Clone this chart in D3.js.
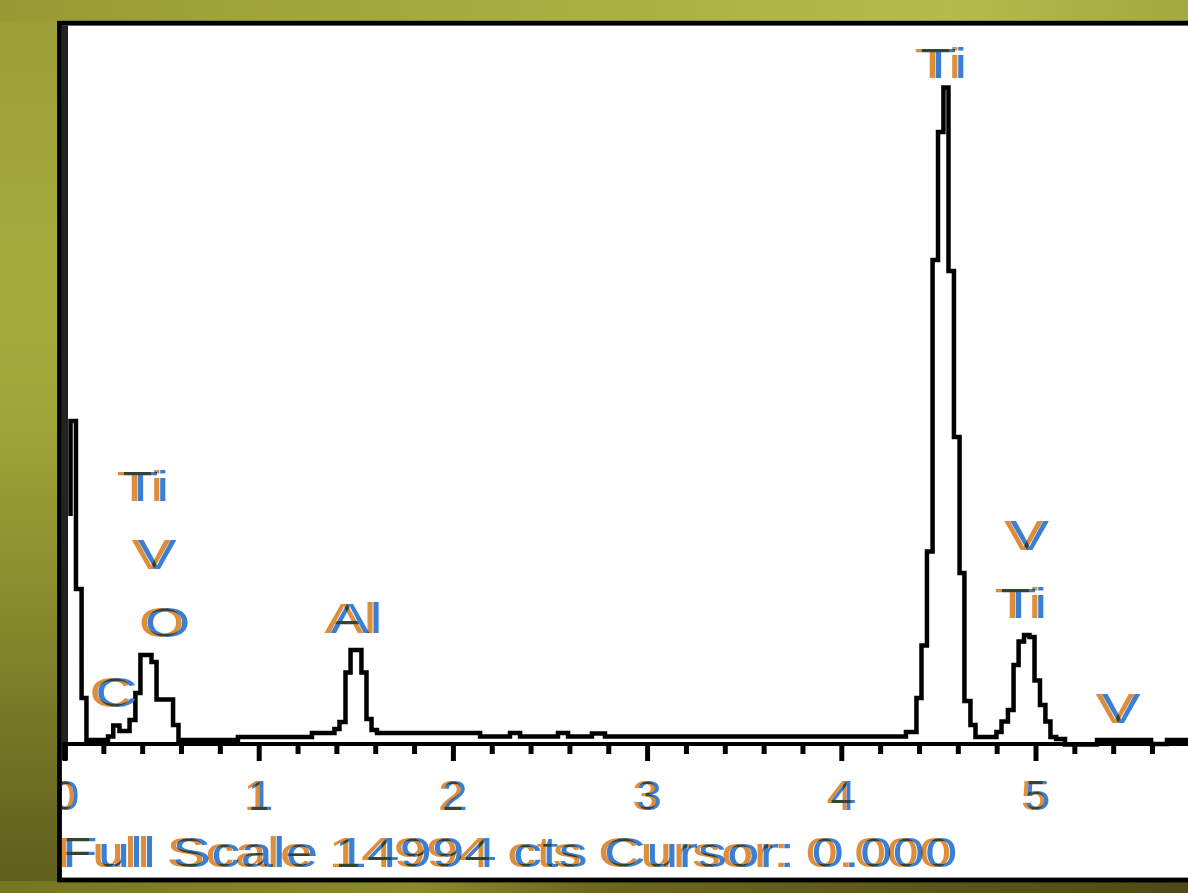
<!DOCTYPE html>
<html>
<head>
<meta charset="utf-8">
<script src="https://cdn.jsdelivr.net/npm/d3@7"></script>
<style>
html, body { margin: 0; padding: 0; overflow: hidden; background: #7d7f2a; }
svg { display: block; }
.lbl { font-family: "Liberation Sans", Arial, sans-serif; font-size: 42px; }
</style>
</head>
<body>
<svg id="chart" width="1188" height="893"></svg>
<script>
const edgeKeV = [0.031, 0.031, 0.059, 0.088, 0.113, 0.224, 0.251, 0.283, 0.335, 0.365,
    0.391, 0.448, 0.474, 0.559, 0.587, 0.893, 1.274, 1.390, 1.416, 1.447,
    1.473, 1.529, 1.555, 1.581, 1.609, 2.140, 2.294, 2.346, 2.541, 2.593,
    2.716, 2.783, 4.333, 4.387, 4.413, 4.441, 4.470, 4.498, 4.526, 4.552,
    4.580, 4.609, 4.634, 4.665, 4.691, 4.799, 4.825, 4.858, 4.887, 4.913,
    4.941, 4.969, 4.995, 5.023, 5.051, 5.077, 5.106, 5.152, 5.317, 5.595,
    5.677, 5.847];
const counts = [4769, 6747, 3249, 979, 104, 177, 406, 292, 521, 1083,
    1874, 1728, 948, 417, 104, 167, 250, 333, 479, 1510,
    1978, 1510, 541, 312, 250, 177, 250, 177, 250, 177,
    239, 177, 271, 979, 2072, 4030, 10100, 12766, 13692, 9871,
    6414, 3582, 916, 417, 167, 271, 489, 729, 1666, 2155,
    2291, 2249, 1343, 833, 489, 167, 125, 10, 104, 21,
    104, 104];

// peak labels: element, energy (keV), count level of the text baseline
const peakNames = ["Ti", "V", "O", "C", "Al", "Ti", "V", "Ti", "V"];
const peakKeV = [0.404, 0.461, 0.515, 0.252, 1.488, 4.513, 4.954, 4.925, 5.425];
const peakCounts = [5081, 3665, 2249, 791, 2332, 13890, 4061, 2645, 458];

const majorTicks = [0, 1, 2, 3, 4, 5];
const minorTicks = [0.2, 0.4, 0.6, 0.8, 1.2, 1.4, 1.6, 1.8, 2.2, 2.4, 2.6, 2.8,
    3.2, 3.4, 3.6, 3.8, 4.2, 4.4, 4.6, 4.8, 5.2, 5.4, 5.6, 5.8];
const fullScale = 14994;
const footerText = "Full Scale 14994 cts Cursor: 0.000";

const W = 1188, H = 893;
const svg = d3.select("#chart");
const defs = svg.append("defs");

function gradient(id, x2, y2, stops) {
    var g = defs.append("linearGradient").attr("id", id)
        .attr("x1", 0).attr("y1", 0).attr("x2", x2).attr("y2", y2);
    stops.forEach(s => g.append("stop").attr("offset", s[0]).attr("stop-color", s[1]));
}
gradient("bgLeft", 0, 1, [[0, "#9a9d36"], [0.3, "#a6ab3e"], [0.45, "#a2a73b"], [0.7, "#85882c"], [0.9, "#6a6a22"], [1, "#5d5c1d"]]);
gradient("bgTop", 1, 0, [[0, "#989a35"], [0.5, "#a9b042"], [0.8, "#b5bb4c"], [1, "#a3a840"]]);
gradient("bgBottom", 1, 0, [[0, "#757624"], [0.35, "#8a8a2c"], [0.5, "#6a6820"], [1, "#4e4a18"]]);

// colour fringes of the screen-rendered text: orange left, blue right, dark where both
const fr = defs.append("filter").attr("id", "fringe")
    .attr("x", "-10%").attr("y", "-20%").attr("width", "120%").attr("height", "140%");
fr.append("feOffset").attr("in", "SourceAlpha").attr("dx", -2).attr("dy", 0).attr("result", "aL");
fr.append("feFlood").attr("flood-color", "#dc8e3c").attr("result", "cL");
fr.append("feComposite").attr("in", "cL").attr("in2", "aL").attr("operator", "in").attr("result", "L");
fr.append("feOffset").attr("in", "SourceAlpha").attr("dx", 2).attr("dy", 0).attr("result", "aR");
fr.append("feFlood").attr("flood-color", "#3a7fd4").attr("result", "cR");
fr.append("feComposite").attr("in", "cR").attr("in2", "aR").attr("operator", "in").attr("result", "R");
fr.append("feBlend").attr("in", "L").attr("in2", "R").attr("mode", "multiply");

// olive slide background
svg.append("rect").attr("width", W).attr("height", H).attr("fill", "url(#bgLeft)");
svg.append("rect").attr("width", W).attr("height", 22).attr("fill", "url(#bgTop)");
svg.append("rect").attr("y", 881).attr("width", W).attr("height", H - 881).attr("fill", "url(#bgBottom)");

// white panel
const panel = {left: 59.5, top: 23.2, bottom: 880};
svg.append("rect")
    .attr("x", panel.left).attr("y", panel.top)
    .attr("width", W).attr("height", panel.bottom - panel.top)
    .attr("fill", "#ffffff");

defs.append("clipPath").attr("id", "inner")
    .append("rect").attr("x", 62).attr("y", 25.5).attr("width", W).attr("height", 852);

const x = d3.scaleLinear().domain([0, 5.8]).range([64.5, 64.5 + 194.2 * 5.8]);
const y = d3.scaleLinear().domain([0, fullScale]).range([745, 25]);

const plot = svg.append("g").attr("clip-path", "url(#inner)");

// dark left edge of the plot area
plot.append("rect").attr("x", 62).attr("y", 25).attr("width", 6).attr("height", 735).attr("fill", "#222222");

// spectrum trace
const pts = edgeKeV.map((e, i) => [e, counts[i]]);
const line = d3.line()
    .x(d => x(d[0]))
    .y(d => y(d[1]))
    .curve(d3.curveStepAfter);
plot.append("path")
    .datum(pts)
    .attr("d", line)
    .attr("fill", "none")
    .attr("stroke", "#000")
    .attr("stroke-width", 4.5)
    .attr("stroke-linejoin", "miter");

// energy axis
const axisY = y(0) + 1;
plot.append("line")
    .attr("x1", 62).attr("x2", W)
    .attr("y1", axisY - 2).attr("y2", axisY - 2)
    .attr("stroke", "#000").attr("stroke-width", 4);

function drawTicks(vals, size) {
    var g = plot.append("g")
        .attr("transform", "translate(0," + axisY + ")")
        .call(d3.axisBottom(x).tickValues(vals).tickSize(size).tickFormat(""));
    g.select(".domain").remove();
    g.selectAll(".tick line").attr("stroke", "#000").attr("stroke-width", 5);
}
drawTicks(minorTicks, 8);
drawTicks(majorTicks, 15);

function fringeText(txt, tx, ty, sx, anchor) {
    plot.append("g")
        .attr("transform", "translate(" + tx + "," + ty + ") scale(" + sx + ",1)")
        .append("text")
        .attr("class", "lbl")
        .attr("text-anchor", anchor)
        .attr("fill", "#000")
        .attr("filter", "url(#fringe)")
        .text(txt);
}

majorTicks.forEach(v => fringeText(String(v), x(v), 810, 1.1, "middle"));
peakNames.forEach((n, i) => fringeText(n, x(peakKeV[i]), y(peakCounts[i]), 1.4, "middle"));
fringeText(footerText, 59, 867, 1.39, "start");

// panel frame on top
svg.append("rect")
    .attr("x", panel.left).attr("y", panel.top)
    .attr("width", W).attr("height", panel.bottom - panel.top)
    .attr("fill", "none")
    .attr("stroke", "#000").attr("stroke-width", 4.8);
</script>
</body>
</html>
